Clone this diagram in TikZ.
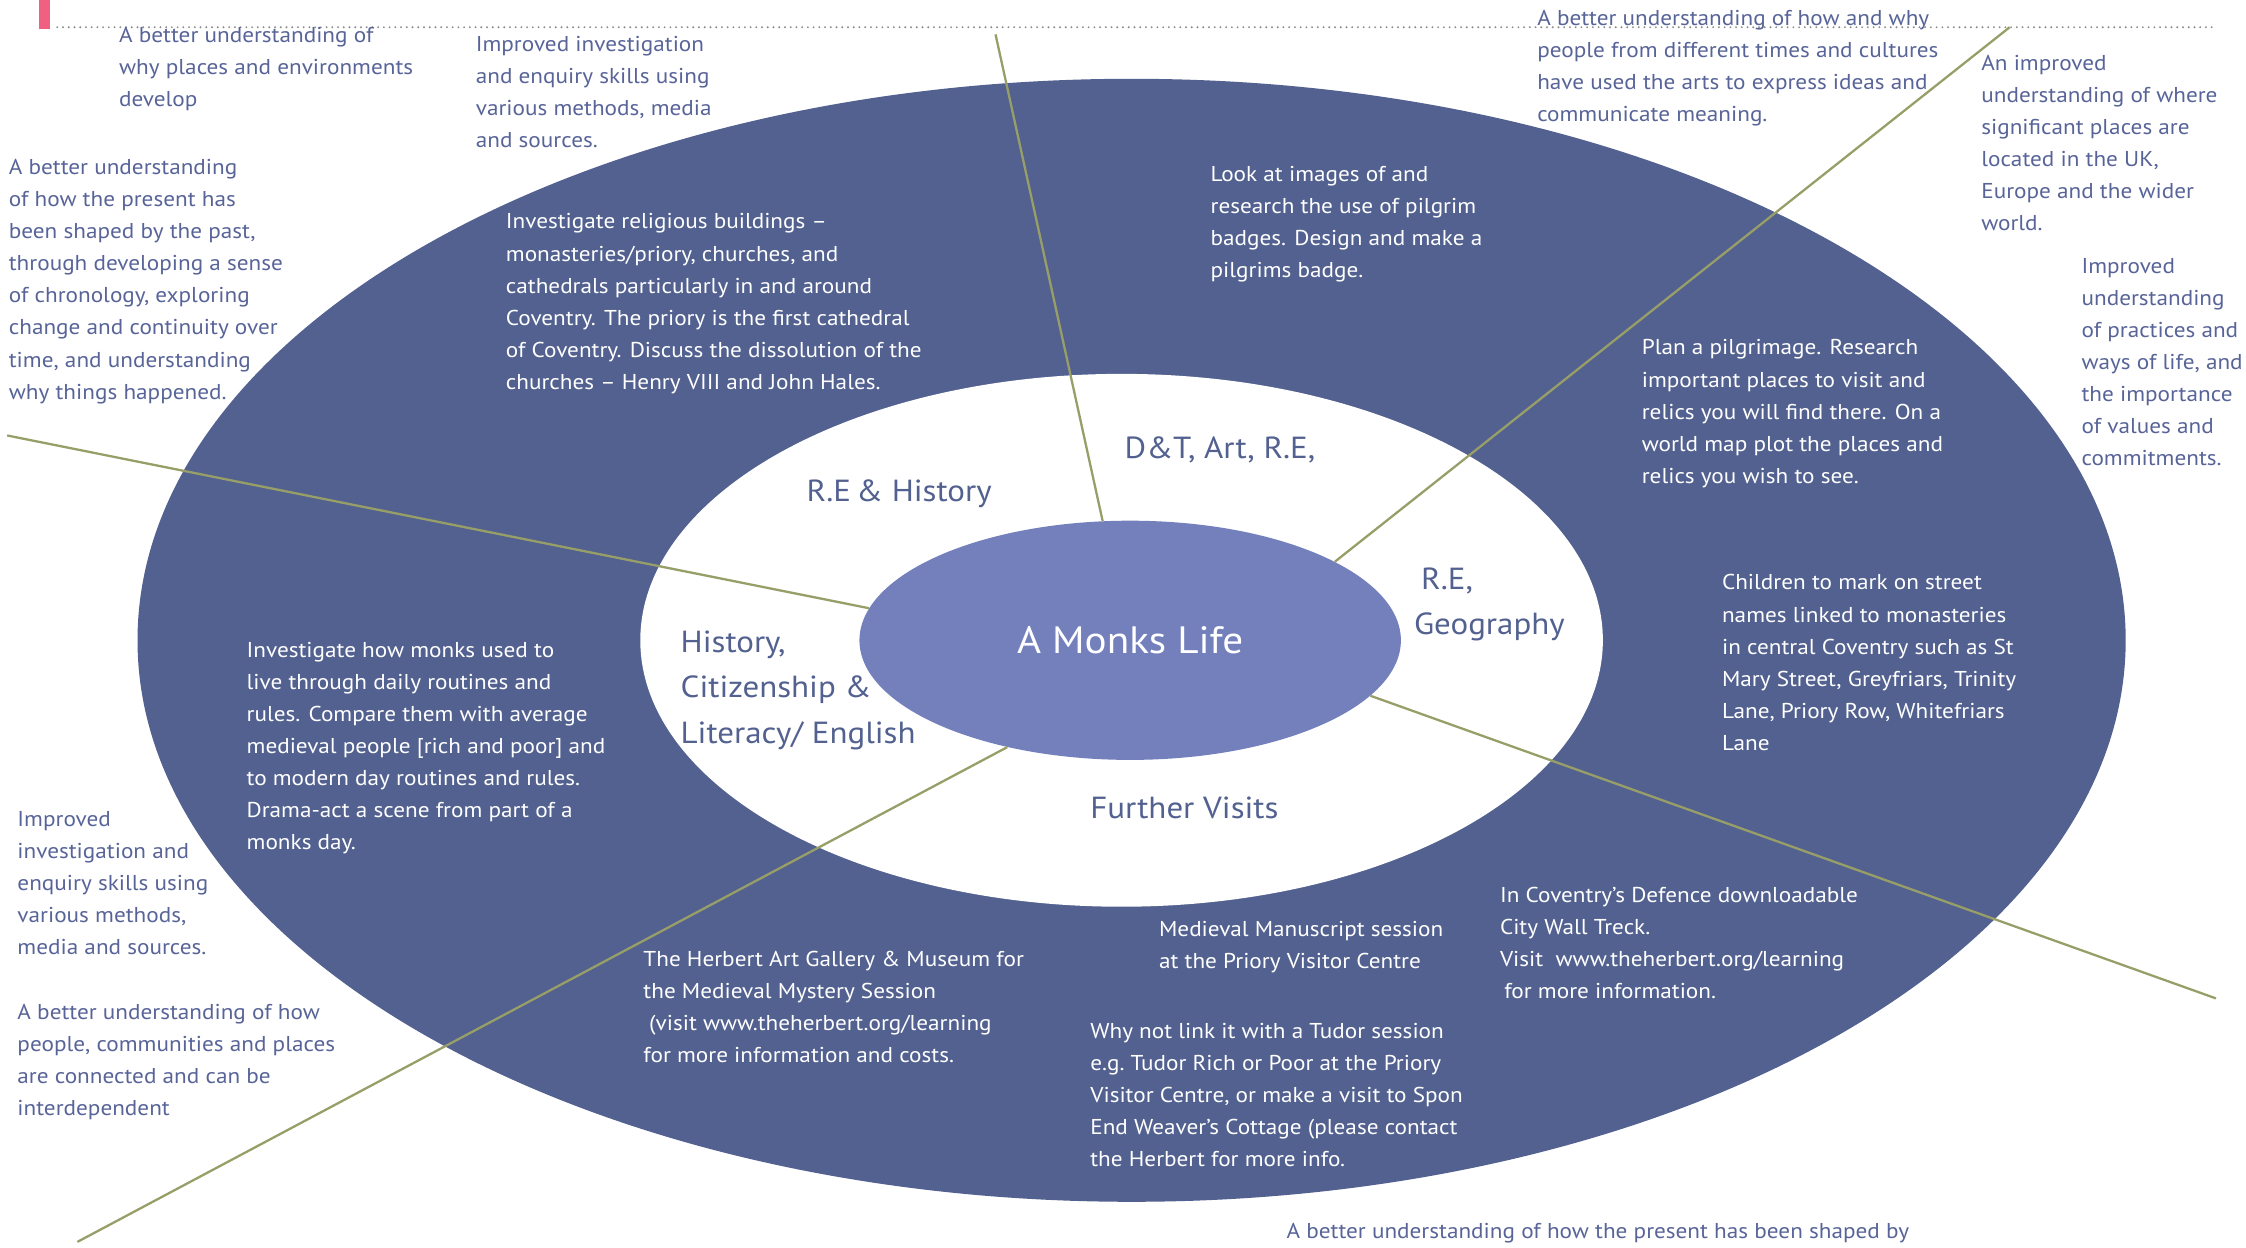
\documentclass[tikz,border=0pt]{standalone}
\usepackage{fontspec}
\setmainfont{PT Sans}[FakeStretch=1.08]
\usetikzlibrary{shapes.geometric}
\definecolor{ring}{RGB}{82,97,143}
\definecolor{hub}{RGB}{115,128,188}
\definecolor{ink}{RGB}{88,100,152}
\definecolor{olive}{RGB}{152,158,104}
\definecolor{rose}{RGB}{240,96,128}

\begin{document}
\begin{tikzpicture}[x=1pt, y=-1pt,
    aim/.style={anchor=north west, inner sep=0pt, align=left, text=ink, font=\fontsize{15}{22.4}\selectfont},
    task/.style={aim, text=white},
    subj/.style={anchor=north west, inner sep=0pt, align=left, text=ring, font=\fontsize{21.3}{32}\selectfont},
    spoke/.style={olive, line width=1.6pt}]
    \useasboundingbox (0,0) rectangle (1568,871);

    \fill[rose] (27,0) rectangle (35,20);
    \draw[gray!90, line width=1.5pt, dash pattern=on 0pt off 4pt, line cap=round] (40,19) -- (1545,19);

    \fill[ring] (790,447) ellipse [x radius=694pt, y radius=392pt];
    \fill[white] (783,447) ellipse [x radius=336pt, y radius=186pt];

    \node[ellipse, fill=hub, minimum width=378pt, minimum height=167pt, inner sep=0pt,
      text=white, font=\fontsize{26.6}{32}\selectfont] (life) at (789,447) {A Monks Life};

    \coordinate (e1) at (695,24);
    \coordinate (e2) at (1403,19);
    \coordinate (e3) at (5,304);
    \coordinate (e4) at (54,867);
    \coordinate (e5) at (1547,697);

    \draw[spoke] (life.103) -- (e1);
    \draw[spoke] (life.21) -- (e2);
    \draw[spoke] (life.173) -- (e3);
    \draw[spoke] (life.221) -- (e4);
    \draw[spoke] (life.347) -- (e5);

    \node[subj] (rehist) at (563,335) {R.E\,\& History};
    \node[subj] (dtart) at (785,305) {D\&T, Art, R.E,};
    \node[subj] (regeo) at (987,396) {\hspace{5pt}R.E,\\Geography};
    \node[subj] (hcl) at (475,440) {History,\\Citizenship \&\\Literacy/ English};
    \node[subj] (visits) at (761,556) {Further Visits};

    \node[task] (build) at (353,149) {Investigate religious buildings –\\monasteries/priory, churches, and\\cathedrals particularly in and around\\Coventry.  The priory is the first cathedral\\of Coventry. Discuss the dissolution of the\\churches – Henry VIII and John Hales.};
    \node[task] (badge) at (845,116) {Look at images of and\\research the use of pilgrim\\badges.  Design and make a\\pilgrims badge.};
    \node[task] (plan) at (1146,237) {Plan a pilgrimage.  Research\\important places to visit and\\relics you will find there.  On a\\world map plot the places and\\relics you wish to see.};
    \node[task] (street) at (1202,401) {Children to mark on street\\names linked to monasteries\\in central Coventry such as St\\Mary Street, Greyfriars, Trinity\\Lane, Priory Row, Whitefriars\\Lane};
    \node[task] (daily) at (172,448) {Investigate how monks used to\\live through daily routines and\\rules.  Compare them with average\\medieval people [rich and poor] and\\to modern day routines and rules.\\Drama-act a scene from part of a\\monks day.};
    \node[task] (herbert) at (449,664) {The Herbert Art Gallery \& Museum for\\the Medieval Mystery Session\\\hspace{4pt}(visit www.theherbert.org/learning\\for more information and costs.};
    \node[task] (manus) at (809,643) {Medieval Manuscript session\\at the Priory Visitor Centre};
    \node[task] (tudor) at (761,714) {Why not link it with a Tudor session\\e.g.\ Tudor Rich or Poor at the Priory\\Visitor Centre, or make a visit to Spon\\End Weaver’s Cottage (please contact\\the Herbert for more info.};
    \node[task] (wall) at (1047,619) {In Coventry’s Defence downloadable\\City Wall Treck.\\Visit~ www.theherbert.org/learning\\\hspace{3pt}for more information.};

    \node[aim] (places) at (83,19) {A better understanding of\\why places and environments\\develop};
    \node[aim] (enq) at (332,25) {Improved investigation\\and enquiry skills using\\various methods, media\\and sources.};
    \node[aim] (past) at (6,111) {A better understanding\\of how the present has\\been shaped by the past,\\through developing a sense\\of chronology, exploring\\change and continuity over\\time, and understanding\\why things happened.};
    \node[aim] (arts) at (1073,7) {A better understanding of how and why\\people from different times and cultures\\have used the arts to express ideas and\\communicate meaning.};
    \node[aim] (where) at (1383,38) {An improved\\understanding of where\\significant places are\\located in the UK,\\Europe and the wider\\world.};
    \node[aim] (ways) at (1453,180) {Improved\\understanding\\of practices and\\ways of life, and\\the importance\\of values and\\commitments.};
    \node[aim] (enq2) at (12,566) {Improved\\investigation and\\enquiry skills using\\various methods,\\media and sources.};
    \node[aim] (comm) at (12,701) {A better understanding of how\\people, communities and places\\are connected and can be\\interdependent};
    \node[aim] (shaped) at (898,854) {A better understanding of how the present has been shaped by};
\end{tikzpicture}
\end{document}
